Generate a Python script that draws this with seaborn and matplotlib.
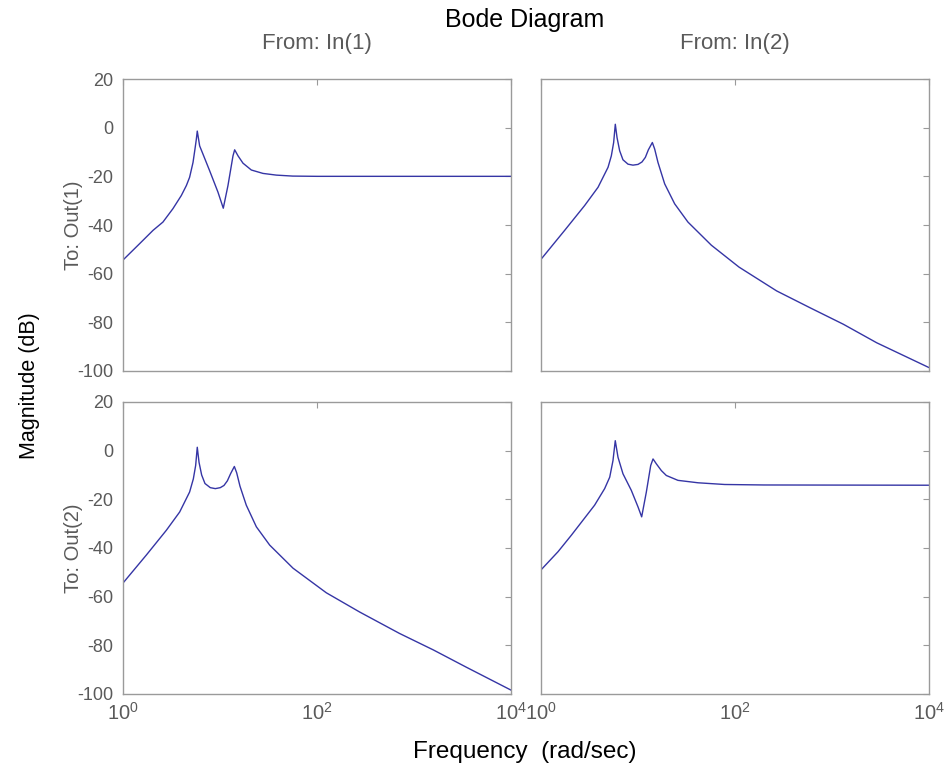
import matplotlib
matplotlib.use("Agg")
import matplotlib.pyplot as plt
import seaborn as sns
import pandas as pd

# ---- data (frequency in rad/s, magnitude in dB) ----
w_11 = [1.0, 1.49, 2.04, 2.58, 3.27, 3.99, 4.5, 4.86, 5.27, 5.52, 5.7, 5.83, 6.17,
        6.68, 7.82, 9.53, 10.81, 12.08, 13.61, 14.16, 15.35, 17.26, 21.04, 27.73,
        38.11, 56.2, 100.0, 10000.0]
m_11 = [-54.4, -47.6, -42.2, -38.8, -33.3, -27.9, -23.8, -20.4, -14.3, -8.8, -4.8, -1.4, -7.5,
        -10.9, -17.7, -26.5, -33.1, -23.8, -11.6, -9.1, -11.6, -14.6, -17.4, -18.8,
        -19.5, -19.9, -20.0, -20.0]

w_12 = [1.0, 1.754, 2.818, 3.873, 4.909, 5.309, 5.61, 5.834, 6.081, 6.471, 6.998, 7.889,
        8.872, 10.0, 10.99, 11.91, 12.79, 14.06, 14.86, 16.07, 18.84, 23.88, 32.73, 57.02,
        110.0, 269.0, 593.0, 1311.0, 2890.0, 10000.0]
m_12 = [-54.1, -42.2, -32.0, -24.5, -16.3, -11.6, -6.1, 1.4, -4.1, -9.5, -13.2, -15.0,
        -15.4, -15.1, -14.1, -12.2, -9.1, -6.1, -8.8, -14.3, -23.1, -31.3, -38.8, -48.3,
        -57.3, -67.1, -74.0, -80.8, -88.4, -98.6]

w_21 = [1.0, 1.74, 2.80, 3.84, 4.86, 5.31, 5.61, 5.83, 6.08, 6.47, 7.0, 7.94, 8.95,
        10.07, 10.99, 11.91, 12.88, 14.06, 14.86, 16.07, 18.66, 23.71, 32.51, 56.62,
        124.7, 275.0, 708.0, 1585.0, 3467.0, 10000.0]
m_21 = [-54.4, -42.9, -32.7, -25.2, -17.0, -11.6, -6.1, 1.4, -4.8, -10.0, -13.5, -15.2, -15.6,
        -15.2, -14.3, -12.4, -9.4, -6.5, -9.1, -14.6, -22.4, -31.3, -38.8, -48.3,
        -58.4, -66.3, -75.1, -81.9, -89.0, -98.4]

w_22 = [1.0, 1.50, 2.06, 3.57, 4.53, 5.11, 5.52, 5.83, 6.22, 7.0, 8.53, 10.0, 10.91,
        12.19, 13.52, 14.29, 15.45, 17.42, 19.59, 25.82, 41.59, 78.2, 200.0, 10000.0]
m_22 = [-49.0, -41.5, -34.7, -22.4, -15.6, -10.9, -4.1, 4.1, -2.7, -9.5, -16.3, -23.1, -27.2,
        -17.0, -6.1, -3.4, -5.4, -8.2, -10.2, -12.2, -13.2, -13.9, -14.1, -14.2]

x_ticks = [1, 100, 10000]
x_labels = [r"$10^0$", r"$10^2$", r"$10^4$"]
y_ticks = [-100, -80, -60, -40, -20, 0, 20]
col_titles = ["From: In(1)", "From: In(2)"]
row_titles = ["To: Out(1)", "To: Out(2)"]

sns.set_style("white")
plt.rcParams["font.family"] = ["Liberation Sans", "DejaVu Sans"]
plt.rcParams["mathtext.fontset"] = "custom"
plt.rcParams["mathtext.rm"] = "Liberation Sans"
plt.rcParams["mathtext.it"] = "Liberation Sans"

gray_txt = "#5a5a5a"
spine_c = "#9a9a9a"
line_c = "#3535a5"

fig = plt.figure(figsize=(9.46, 7.69), dpi=100)
lefts = [123 / 946, 541 / 946]
bottoms = [1 - 371 / 769, 1 - 694 / 769]
wd = 388 / 946
ht = 292 / 769

data = {(0, 0): (w_11, m_11), (0, 1): (w_12, m_12),
        (1, 0): (w_21, m_21), (1, 1): (w_22, m_22)}

for (r, c), (wv, mv) in data.items():
    ax = fig.add_axes([lefts[c], bottoms[r], wd, ht])
    df = pd.DataFrame({"w": wv, "mag": mv})
    sns.lineplot(data=df, x="w", y="mag", ax=ax, color=line_c, lw=1.0,
                 sort=False, estimator=None)
    ax.set_xscale("log")
    ax.set_xlim(1, 10000)
    ax.set_ylim(-100, 20)
    ax.set_xticks(x_ticks)
    ax.xaxis.set_minor_locator(matplotlib.ticker.NullLocator())
    ax.set_yticks(y_ticks)
    ax.set_xlabel("")
    ax.set_ylabel("")
    ax.tick_params(direction="in", top=True, right=True, length=4,
                   color=spine_c, labelcolor=gray_txt, labelsize=13)
    ax.tick_params(axis="y", pad=7)
    ax.tick_params(axis="x", pad=6)
    if r == 1:
        ax.set_xticklabels(x_labels)
        for lab in ax.get_xticklabels():
            lab.set_fontsize(14.5)
    else:
        ax.set_xticklabels([])
    if c == 0:
        ax.set_yticklabels([str(v) for v in y_ticks])
    else:
        ax.set_yticklabels([])
    for s in ax.spines.values():
        s.set_color(spine_c)
        s.set_linewidth(1.0)
    if r == 0:
        fig.text(lefts[c] + wd / 2, 1 - 49 / 769, col_titles[c], ha="center",
                 va="baseline", color=gray_txt, fontsize=16)
    if c == 0:
        fig.text(73 / 946, bottoms[r] + ht / 2, row_titles[r], rotation=90,
                 ha="center", va="center", color=gray_txt, fontsize=14.5)

fig.text(525 / 946, 1 - 27 / 769, "Bode Diagram", ha="center", va="baseline",
         fontsize=18, color="black")
fig.text(30 / 946, 1 - 386 / 769, "Magnitude (dB)", rotation=90, ha="center",
         va="center", fontsize=15.5, color="black")
fig.text(525 / 946, 1 - 758 / 769, "Frequency  (rad/sec)", ha="center",
         va="baseline", fontsize=17.5, color="black")

fig.savefig("out.png", dpi=100)
